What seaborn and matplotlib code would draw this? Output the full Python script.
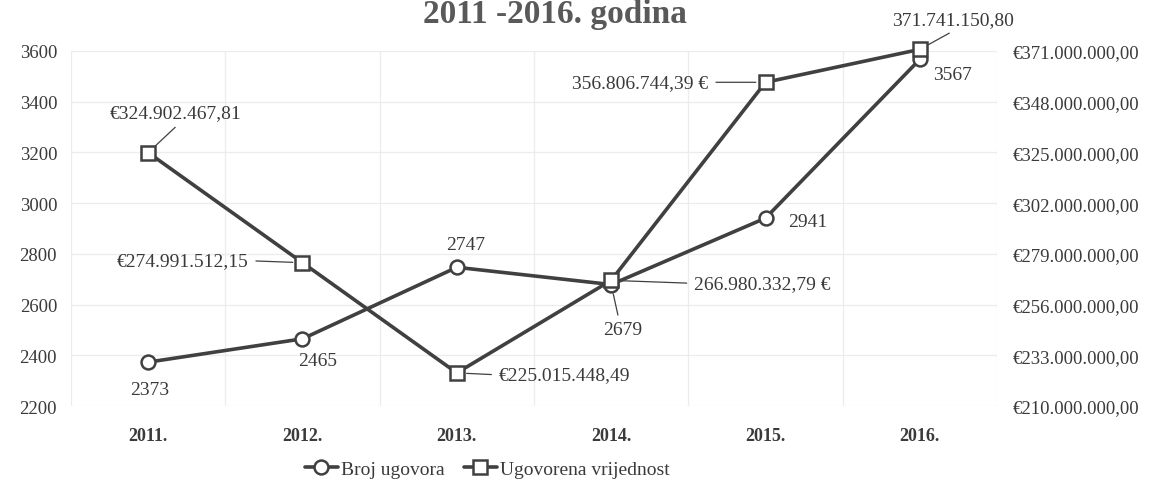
import matplotlib.pyplot as plt
import seaborn as sns
import numpy as np
import pandas as pd

years = ["2011.", "2012.", "2013.", "2014.", "2015.", "2016."]
broj_ugovora = [2373, 2465, 2747, 2679, 2941, 3567]
ugovorena_vrijednost = [324902467.81, 274991512.15, 225015448.49,
                        266980332.79, 356806744.39, 371741150.80]
value_label_fmt = ["€{}", "€{}", "€{}", "{} €", "{} €", "{}"]
left_ticks = [2200, 2400, 2600, 2800, 3000, 3200, 3400, 3600]
right_ticks = [210000000, 233000000, 256000000, 279000000,
               302000000, 325000000, 348000000, 371000000]

LINE = "#404040"
TEXT = "#3a3a3a"
FONT = ["Liberation Serif", "DejaVu Serif"]

sns.set_theme(style="white")
plt.rcParams["font.family"] = FONT
plt.rcParams["font.size"] = 14


def hr(v):
    # croatian number format: 1.234.567,89
    s = f"{v:,.2f}"
    return s.replace(",", "X").replace(".", ",").replace("X", ".")


df = pd.DataFrame({"godina": years, "broj": broj_ugovora, "vrijednost": ugovorena_vrijednost})

fig = plt.figure(figsize=(11.6, 4.85), dpi=100)
ax = fig.add_axes([0.0612, 0.1608, 0.7983, 0.732])
ax2 = ax.twinx()

sns.lineplot(data=df, x="godina", y="broj", ax=ax, color=LINE, lw=2.6,
             marker="o", markersize=10, markerfacecolor="white", clip_on=False,
             markeredgecolor=LINE, markeredgewidth=1.8, label="Broj ugovora", legend=False)
sns.lineplot(data=df, x="godina", y="vrijednost", ax=ax2, color=LINE, lw=2.6,
             marker="s", markersize=10, markerfacecolor="white", clip_on=False,
             markeredgecolor=LINE, markeredgewidth=1.8, label="Ugovorena vrijednost", legend=False)

ax.set_xlim(-0.5, 5.5)
ax.set_ylim(2200, 3600)
ax2.set_ylim(210000000, 371000000)
ax.set_yticks(left_ticks)
ax.set_yticklabels([str(t) for t in left_ticks])
ax2.set_yticks(right_ticks)
ax2.set_yticklabels(["€" + hr(t) for t in right_ticks])
ax.set_xticks(range(len(years)))
ax.set_xticklabels(years, fontweight="bold", fontsize=13)
ax.set_xticks(np.arange(-0.5, 6), minor=True)
ax.set_xlabel("")
ax.set_ylabel("")
ax2.set_ylabel("")

ax.grid(axis="y", which="major", color="#ececec", lw=0.9)
ax.grid(axis="x", which="minor", color="#ececec", lw=0.9)
ax.grid(axis="x", which="major", visible=False)
ax2.grid(False)
ax.tick_params(axis="x", which="both", length=0, pad=15, colors=TEXT)
ax.tick_params(axis="y", length=0, pad=10, labelsize=13.5, colors=TEXT)
ax2.tick_params(axis="y", length=0, pad=11, labelsize=13.5, colors=TEXT)
for a in (ax, ax2):
    for s in a.spines.values():
        s.set_visible(False)

# data labels, offsets in pixels
sq_offsets = [(27, 40, "center", (0.55, 0)), (-54, 2, "right", (1, 0.5)),
              (42, -2, "left", (0, 0.5)), (83, -3, "left", (0, 0.5)),
              (-57, 0, "right", (1, 0.5)), (-28, 30, "left", (0.55, 0))]
for i, v in enumerate(ugovorena_vrijednost):
    dx, dy, ha, rp = sq_offsets[i]
    ax2.annotate(value_label_fmt[i].format(hr(v)), xy=(i, v), xytext=(dx, dy),
                 textcoords="offset pixels", ha=ha, va="center", color=TEXT, fontsize=14,
                 annotation_clip=False,
                 arrowprops=dict(arrowstyle="-", color=LINE, lw=0.9, shrinkA=3, shrinkB=7,
                                 relpos=rp))

ci_offsets = [(2, -27), (15, -22), (9, 23), (12, -45), (23, -3), (33, -15)]
for i, v in enumerate(broj_ugovora):
    dx, dy = ci_offsets[i]
    if i == 3:
        ax.annotate(str(v), xy=(i, v), xytext=(dx, dy), textcoords="offset pixels",
                    ha="center", va="center", color=TEXT, fontsize=14,
                    arrowprops=dict(arrowstyle="-", color=LINE, lw=0.9, shrinkA=2, shrinkB=7,
                                    relpos=(0.4, 1)))
    else:
        ax.annotate(str(v), xy=(i, v), xytext=(dx, dy), textcoords="offset pixels",
                    ha="left" if i == 4 else "center", va="center", color=TEXT, fontsize=14)

h1, l1 = ax.get_legend_handles_labels()
h2, l2 = ax2.get_legend_handles_labels()
fig.legend(h1 + h2, l1 + l2, loc="center", bbox_to_anchor=(0.42, 0.031), ncol=2,
           frameon=False, fontsize=14, handlelength=1.7, handletextpad=0.15,
           columnspacing=1.0, labelcolor=TEXT)

fig.text(0.478, 1 - 23 / 485, "2011 -2016. godina", ha="center", va="baseline",
         fontsize=24, fontweight="bold", color="#595959")

fig.savefig("out.png", dpi=100)
